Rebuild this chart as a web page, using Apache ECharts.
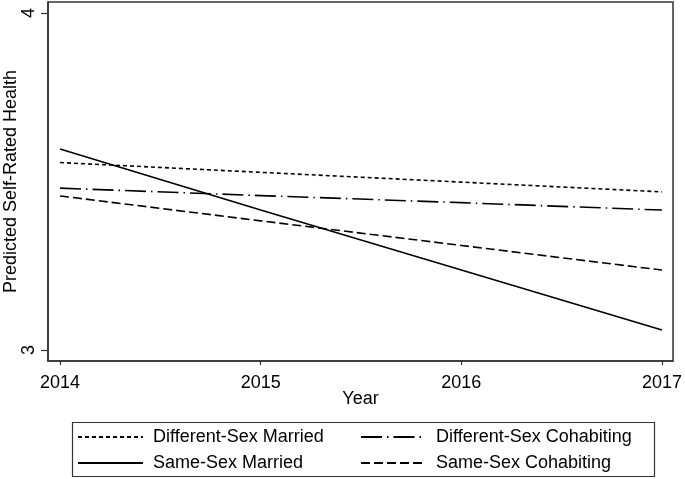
<!DOCTYPE html>
<html>
<head>
<meta charset="utf-8">
<script src="https://cdn.jsdelivr.net/npm/echarts@6/dist/echarts.min.js"></script>
<style>html,body{margin:0;padding:0;background:#fff;}#c{width:685px;height:479px;}</style>
</head>
<body>
<div id="c"></div>
<script>
var years = [2014, 2015, 2016, 2017];
var diffSexMarried = [3.556, 3.527, 3.498, 3.469];
var diffSexCohabiting = [3.480, 3.458, 3.437, 3.415];
var sameSexMarried = [3.596, 3.415, 3.237, 3.059];
var sameSexCohabiting = [3.457, 3.383, 3.310, 3.237];
var yTicks = [3, 4];
var xTitle = 'Year';
var yTitle = 'Predicted Self-Rated Health';

function pairs(v){ return years.map(function(y,i){ return [y, v[i]]; }); }
var FONT = 'Liberation Sans, Arial, Helvetica, sans-serif';
var chart = echarts.init(document.getElementById('c'), null, {renderer:'canvas'});
function mk(name, data, dash){
  return {name:name, type:'line', data:pairs(data), symbol:'none', showSymbol:false,
    lineStyle:{color:'#000', width:1.6, type:dash}, itemStyle:{color:'#000'}, animation:false};
}
var legendCommon = {orient:'vertical', top:423, itemWidth:65, itemHeight:14, itemGap:8,
  itemStyle:{opacity:0},
  textStyle:{fontFamily:FONT, fontSize:18, color:'#000', padding:[0,0,0,5]}};
chart.setOption({
  animation:false,
  backgroundColor:'#fff',
  grid:{left:48, top:2, right:12, bottom:118, show:true, borderColor:'#333', borderWidth:1.5,
    containLabel:false, outerBoundsMode:'none'},
  xAxis:{type:'value', min:2013.94, max:2017.055,
    name:xTitle, nameLocation:'middle', nameGap:29, nameMoveOverlap:false,
    nameTextStyle:{fontFamily:FONT, fontSize:18, color:'#000'},
    axisLine:{show:true, lineStyle:{color:'#333', width:1.5}},
    axisTick:{show:true, length:4, customValues:years, lineStyle:{color:'#333', width:1.2}},
    axisLabel:{customValues:years, margin:13, fontFamily:FONT, fontSize:18, color:'#000', formatter:function(v){return String(v);}},
    splitLine:{show:false}},
  yAxis:{type:'value', min:2.967, max:4.0326,
    name:yTitle, nameLocation:'middle', nameGap:28, nameMoveOverlap:false,
    nameTextStyle:{fontFamily:FONT, fontSize:18, color:'#000'},
    axisLine:{show:true, lineStyle:{color:'#333', width:1.5}},
    axisTick:{show:true, length:7, customValues:yTicks, lineStyle:{color:'#333', width:1.2}},
    axisLabel:{customValues:yTicks, rotate:90, margin:10, fontFamily:FONT, fontSize:18, color:'#000', formatter:function(v){return String(v);}},
    splitLine:{show:false}},
  legend:[
    Object.assign({left:72, data:['Different-Sex Married','Same-Sex Married']}, legendCommon),
    Object.assign({left:355, data:['Different-Sex Cohabiting','Same-Sex Cohabiting']}, legendCommon)
  ],
  graphic:[{type:'rect', left:70, top:420, shape:{width:582, height:54},
    style:{fill:'none', stroke:'#333', lineWidth:1.2}, silent:true}],
  series:[
    mk('Different-Sex Married', diffSexMarried, [4,3]),
    mk('Different-Sex Cohabiting', diffSexCohabiting, [21,5,1.5,5]),
    mk('Same-Sex Married', sameSexMarried, 'solid'),
    mk('Same-Sex Cohabiting', sameSexCohabiting, [9,4])
  ]
});
</script>
</body>
</html>
